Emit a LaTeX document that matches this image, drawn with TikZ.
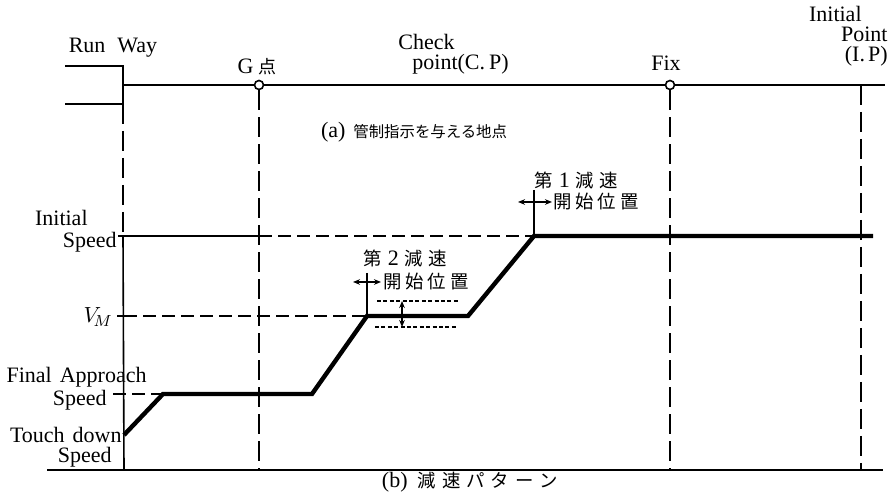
\documentclass[tikz,border=0pt]{standalone}
\usepackage{fontspec}
\setmainfont{Liberation Serif}
\newfontfamily\jp{Noto Sans CJK JP}
\usetikzlibrary{arrows.meta}
\begin{document}
\begin{tikzpicture}[x=0.5pt,y=-0.5pt,
  thinline/.style={line width=0.8pt},
  profile/.style={line width=2.2pt, line join=miter},
  vdash/.style={line width=0.8pt, dash pattern=on 10pt off 3.5pt},
  hdash/.style={line width=0.75pt, dash pattern=on 6.5pt off 3pt},
  finedash/.style={line width=0.6pt, dash pattern=on 2pt off 1.2pt},
  lbl/.style={inner sep=0pt, font=\fontsize{11}{13}\selectfont},
  stack/.style={inner sep=0pt, font=\fontsize{11}{10}\selectfont},
  jlbl/.style={inner sep=0pt, font=\jp\fontsize{9.2}{10}\selectfont},
  dbl/.style={line width=0.6pt, {Stealth[length=3.5pt,width=2.8pt]}-{Stealth[length=3.5pt,width=2.8pt]}},
  ptcirc/.style={circle, draw, fill=white, line width=0.8pt, minimum size=4.5pt, inner sep=0pt}
]
\path[use as bounding box] (0,0) rectangle (889,501);

% ---------- (a) upper part ----------
\coordinate (rwA) at (65,66);
\coordinate (rwB) at (123,66);
\coordinate (rwC) at (123,104);
\coordinate (rwD) at (65,104);
\coordinate (rwM) at (123,85);
\coordinate (topR) at (885,85);
\draw[line width=1.3pt] (rwA) -- (rwB) -- (rwC) -- (rwD);
\draw[line width=1pt] (rwM) -- (topR);
\node[ptcirc] (G) at (259,85) {};
\node[ptcirc] (F) at (670,85) {};
\coordinate (IPt) at (861,85);

\node[lbl] (trw) at (113,48) {Run\hspace{6pt}Way};
\node[lbl] (tg) at (257,67) {G\hspace{2.5pt}{\jp\fontsize{9}{10}\selectfont 点}};
\node[stack, align=left, anchor=west] (tchk) at (398,54) {Check\\\hspace*{7pt}point(C.\hspace{2pt}P)};
\node[lbl] (tfix) at (666,63) {Fix};
\node[stack, align=right, anchor=east] (tip) at (888,36) {Initial\hspace*{13pt}\\Point\\(I.\hspace{1.5pt}P)};
\node[lbl] (capa) at (414,132) {(a)\hspace{4pt}{\jp\fontsize{7.7}{9}\selectfont 管制指示を与える地点}};

% ---------- (b) lower part ----------
\coordinate (aI) at (123,236);
\coordinate (aB) at (124,470);
\coordinate (Gb) at (259,470);
\coordinate (Fb) at (670,470);
\coordinate (IPb) at (861,470);
\coordinate (bL) at (47,470);
\coordinate (bR) at (883,470);

% vertical guide lines
\draw[vdash] (rwC) -- (aI);
\draw[thinline] (aI) -- (aB);
\draw[vdash] (G.south) -- (Gb);
\draw[vdash] (F.south) -- (Fb);
\draw[vdash] (IPt) -- (IPb);
\draw[line width=1pt] (bL) -- (bR);

% speed levels
\coordinate (iT) at (118,236);
\coordinate (iG) at (259,236);
\coordinate (p5) at (534,236);
\draw[thinline] (iT) -- (iG);
\draw[hdash] (iG) -- (p5);
\coordinate (mT) at (117,316);
\coordinate (mA) at (124,316);
\coordinate (p3) at (367,316);
\draw[thinline] (mT) -- (mA);
\draw[hdash] (mA) -- (p3);
\coordinate (fT) at (113,394);
\coordinate (p1) at (163,394);
\draw[hdash] (fT) -- (p1);

% deceleration profile
\coordinate (p0) at (124,435);
\coordinate (p2) at (312,394);
\coordinate (p4) at (468,316);
\coordinate (p6) at (873,236);
\draw[profile] (p0) -- (p1) -- (p2) -- (p3) -- (p4) -- (p5) -- (p6);

% tolerance band around V_M
\coordinate (u1) at (377,301);
\coordinate (u2) at (460,301);
\coordinate (l1) at (375,327);
\coordinate (l2) at (458,327);
\draw[finedash] (u1) -- (u2);
\draw[finedash] (l1) -- (l2);
\coordinate (du) at (402,301);
\coordinate (dl) at (402,327);
\draw[dbl] (du) -- (dl);

% first deceleration start
\coordinate (t1) at (534,190);
\draw[thinline] (t1) -- (p5);
\coordinate (a1l) at (518,202);
\coordinate (a1r) at (552,202);
\draw[dbl] (a1l) -- (a1r);
\node[jlbl] (d1a) at (576,180) {第\hspace{3pt}{\rmfamily\fontsize{11}{13}\selectfont 1}\hspace{3pt}減\hspace{2.5pt}速};
\node[jlbl] (d1b) at (596,202) {開\hspace{2pt}始\hspace{2pt}位\hspace{2pt}置};

% second deceleration start
\coordinate (t2) at (367,273);
\draw[thinline] (t2) -- (p3);
\coordinate (a2l) at (353,282);
\coordinate (a2r) at (381,282);
\draw[dbl] (a2l) -- (a2r);
\node[jlbl] (d2a) at (405,258) {第\hspace{3pt}{\rmfamily\fontsize{11}{13}\selectfont 2}\hspace{3pt}減\hspace{2.5pt}速};
\node[jlbl] (d2b) at (426,282) {開\hspace{2pt}始\hspace{2pt}位\hspace{2pt}置};

% axis labels
\node[lbl, anchor=east] (li1) at (88,218) {Initial};
\node[lbl, anchor=east] (li2) at (117,242) {Speed};
\node[lbl, anchor=east] (lvm) at (113,317) {$V_{\!M}$};
\node[lbl, anchor=east] (lf1) at (147,377) {Final\hspace{4pt}Approach};
\node[lbl, anchor=east] (lf2) at (107,400) {Speed};
\node[lbl, anchor=east] (lt1) at (122,435) {Touch\hspace{4pt}down};
\node[lbl, anchor=east] (lt2) at (112,457) {Speed};

\node[lbl] (capb) at (470,482) {(b)\hspace{5pt}{\jp\fontsize{9.2}{10}\selectfont 減\hspace{3pt}速\hspace{3pt}パ\hspace{3pt}タ\hspace{3pt}ー\hspace{3pt}ン}};
\end{tikzpicture}
\end{document}
